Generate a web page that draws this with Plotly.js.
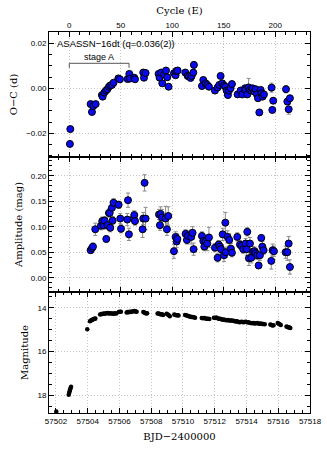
<!DOCTYPE html>
<html>
<head>
<meta charset="utf-8">
<script src="https://cdn.plot.ly/plotly-3.0.1.min.js"></script>
<style>
body { margin: 0; background: #fff; }
#chart { width: 327px; height: 450px; }
</style>
</head>
<body>
<div id="chart"></div>
<script>
// O-C of superhump maxima: cycle E, O-C (d), error
const ocCycle = [0.6, 1, 20.7, 22, 23.3, 25.6, 31.7, 32.4, 34, 35.6, 37, 38.5, 39.8, 41.4, 43, 47.6, 49.2,
  56.6, 58.3, 58.9, 63.1, 63.8, 71.8, 72.5, 74.1, 86.7, 87.7, 89.3, 90.3, 92.2, 93.9, 95.1, 96.4,
  101.6, 103.2, 103.9, 105.2, 112.6, 114.9, 116.2, 117.8, 118.8, 120.4, 121, 128.8, 130.1, 132.4, 134, 135.6,
  141.4, 144, 145.6, 146.9, 148.5, 150.2, 151.5, 152.8, 154, 155, 156.6, 157.9, 163.4, 166.3, 167.9,
  170.6, 171.2, 172.8, 174.1, 175.4, 177, 178, 179.9, 180.9, 182.2, 183.2, 184.5, 185.8, 186.7, 187.7, 189,
  196.4, 197.1, 198, 210.4, 211.7, 213, 214.2]
const ocValue = [-0.0247, -0.0181, -0.0070, -0.0105, -0.0079, -0.0070, -0.0030, -0.0037, -0.0019, -0.0010, -0.0004, 0.0007, 0.0013, 0.0015, 0.0025, 0.0044, 0.0040,
  0.0041, 0.0064, 0.0043, 0.0047, 0.0040, 0.0070, 0.0047, 0.0068, 0.0064, 0.0047, 0.0070, 0.0022, 0.0061, 0.0079, 0.0049, 0.0007,
  0.0067, 0.0058, 0.0077, 0.0079, 0.0070, 0.0055, 0.0052, 0.0046, 0.0055, 0.0070, 0.0104, 0.0010, 0.0037, 0.0022, 0.0015, 0.0007,
  -0.0010, 0.0004, 0.0015, 0.0055, 0.0022, 0.0013, 0.0007, -0.0010, -0.0030, -0.0010, 0.0000, 0.0019, -0.0027, -0.0010, -0.0027,
  0.0000, -0.0007, -0.0027, 0.0004, -0.0007, -0.0010, 0.0000, -0.0015, -0.0004, -0.0027, -0.0044, -0.0107, -0.0007, -0.0022, -0.0037, -0.0027,
  0.0003, -0.0096, -0.0055, -0.0004, -0.0059, -0.0093, -0.0044]
const ocError = [0.0005, 0.0005, 0.0006, 0.0006, 0.0005, 0.0005, 0.0004, 0.0004, 0.0004, 0.0004, 0.0004, 0.0004, 0.0004, 0.0004, 0.0004, 0.0004, 0.0004,
  0.0004, 0.0005, 0.0005, 0.0005, 0.0005, 0.0006, 0.0005, 0.0006, 0.0006, 0.0006, 0.0007, 0.0006, 0.0006, 0.0006, 0.0006, 0.0006,
  0.0006, 0.0006, 0.0006, 0.0006, 0.0006, 0.0006, 0.0006, 0.0006, 0.0007, 0.0008, 0.0014, 0.0007, 0.0007, 0.0007, 0.0008, 0.0007,
  0.0007, 0.0008, 0.0008, 0.0008, 0.0008, 0.0008, 0.0008, 0.0008, 0.0008, 0.0008, 0.0008, 0.0008, 0.0008, 0.0008, 0.0008,
  0.0009, 0.0009, 0.0009, 0.0040, 0.0009, 0.0009, 0.0009, 0.0009, 0.0009, 0.0009, 0.0010, 0.0010, 0.0010, 0.0010, 0.0010, 0.0010,
  0.0020, 0.0012, 0.0012, 0.0016, 0.0014, 0.0022, 0.0012]

// superhump amplitudes: cycle E, amplitude (mag), error
const ampCycle = [20.7, 22, 23, 25.2, 30.7, 32, 33.3, 34.3, 35.9, 37.2, 38.5, 39.2, 39.8, 41.4, 42.1, 43, 47.9, 49.5, 50.2,
  56.3, 57, 57.9, 62.5, 63.1, 63.8, 71.2, 71.8, 73.1, 74.1, 87.1, 88, 88.7, 90, 93.5, 94.8, 96.1,
  101.6, 103.2, 104.2, 104.9, 112.9, 114.2, 115.2, 118.4, 119.7, 120.7, 128.8, 130.1, 131.1, 132.4, 134, 135.6,
  141.4, 144, 145, 146.3, 147.2, 148.9, 150.2, 151.5, 152.1, 153.7, 155.3, 156.9, 157.9,
  163.1, 165.7, 167.3, 168.9, 171.2, 172.2, 172.8, 174.4, 175.4, 176.7, 178.3, 179.9, 180.9, 182.5, 183.8, 185.1, 186.4, 187.4, 188.7,
  196.1, 197.4, 198.7, 210, 211.7, 213, 214.2]
const ampValue = [0.054, 0.058, 0.061, 0.095, 0.102, 0.111, 0.103, 0.112, 0.076, 0.103, 0.127, 0.127, 0.098, 0.137, 0.112, 0.147, 0.143, 0.116, 0.096,
  0.114, 0.152, 0.085, 0.116, 0.123, 0.111, 0.095, 0.116, 0.186, 0.116, 0.124, 0.103, 0.125, 0.118, 0.116, 0.095, 0.121,
  0.052, 0.080, 0.071, 0.076, 0.086, 0.074, 0.082, 0.080, 0.088, 0.056, 0.082, 0.072, 0.061, 0.071, 0.067, 0.079,
  0.059, 0.039, 0.065, 0.061, 0.056, 0.085, 0.044, 0.108, 0.050, 0.080, 0.074, 0.057, 0.049,
  0.080, 0.065, 0.062, 0.056, 0.067, 0.056, 0.090, 0.038, 0.067, 0.039, 0.051, 0.052, 0.048, 0.044, 0.024, 0.044, 0.078, 0.061, 0.054,
  0.033, 0.054, 0.052, 0.050, 0.050, 0.067, 0.021]
const ampError = [0.006, 0.006, 0.007, 0.012, 0.008, 0.008, 0.008, 0.008, 0.006, 0.008, 0.008, 0.008, 0.008, 0.008, 0.008, 0.008, 0.007, 0.010, 0.008,
  0.012, 0.014, 0.012, 0.008, 0.008, 0.008, 0.016, 0.012, 0.016, 0.022, 0.010, 0.010, 0.014, 0.016, 0.024, 0.012, 0.018,
  0.014, 0.010, 0.012, 0.010, 0.008, 0.008, 0.010, 0.014, 0.012, 0.012, 0.008, 0.010, 0.008, 0.010, 0.014, 0.020,
  0.008, 0.008, 0.008, 0.008, 0.010, 0.012, 0.012, 0.020, 0.010, 0.012, 0.012, 0.010, 0.008,
  0.008, 0.008, 0.008, 0.008, 0.010, 0.012, 0.008, 0.014, 0.012, 0.010, 0.010, 0.008, 0.008, 0.008, 0.006, 0.010, 0.006, 0.010, 0.008,
  0.016, 0.012, 0.010, 0.012, 0.016, 0.014, 0.014]

// light curve: BJD-2400000, magnitude
const lcTime = [57502.02,
  57502.80, 57502.83, 57502.86, 57502.89, 57502.92, 57502.95,
  57503.97,
  57504.14, 57504.20, 57504.26, 57504.32, 57504.38, 57504.44, 57504.48,
  57504.78, 57504.85, 57504.92, 57505.00, 57505.08, 57505.16, 57505.24, 57505.32, 57505.40, 57505.48, 57505.56, 57505.64, 57505.72, 57505.80,
  57505.95, 57506.02, 57506.09,
  57506.45, 57506.52, 57506.58, 57506.64, 57506.72, 57506.80, 57506.88, 57506.95, 57507.02, 57507.08,
  57507.50, 57507.56, 57507.62, 57507.68, 57507.74,
  57508.40, 57508.47, 57508.54, 57508.61, 57508.68, 57508.75,
  57508.97, 57509.04, 57509.10, 57509.17,
  57509.45, 57509.52, 57509.59, 57509.66, 57509.72,
  57510.13, 57510.20, 57510.28, 57510.36, 57510.44, 57510.52, 57510.60, 57510.68, 57510.76,
  57511.18, 57511.26, 57511.34, 57511.42, 57511.50, 57511.58, 57511.66,
  57511.95, 57512.02, 57512.10, 57512.18, 57512.26, 57512.34, 57512.42, 57512.50, 57512.58, 57512.66, 57512.74, 57512.82, 57512.90, 57512.98,
  57513.07, 57513.15, 57513.23, 57513.31, 57513.39, 57513.47, 57513.55, 57513.63, 57513.71, 57513.79, 57513.87,
  57513.95, 57514.03, 57514.11, 57514.19, 57514.27, 57514.35, 57514.43, 57514.51, 57514.59, 57514.67, 57514.75, 57514.83, 57514.91, 57514.99, 57515.07, 57515.15,
  57515.50, 57515.57, 57515.64, 57515.70,
  57515.97, 57516.03, 57516.09, 57516.16,
  57516.52, 57516.58, 57516.64, 57516.70, 57516.76]
const lcMag = [18.75,
  17.98, 17.90, 17.82, 17.75, 17.68, 17.62,
  14.99,
  14.62, 14.58, 14.56, 14.54, 14.52, 14.50, 14.49,
  14.31, 14.29, 14.29, 14.27, 14.28, 14.25, 14.24, 14.26, 14.25, 14.27, 14.26, 14.28, 14.25, 14.27,
  14.20, 14.18, 14.19,
  14.22, 14.20, 14.21, 14.19, 14.20, 14.17, 14.16, 14.15, 14.17, 14.18,
  14.20, 14.22, 14.24, 14.26, 14.25,
  14.26, 14.27, 14.29, 14.31, 14.30, 14.33,
  14.28, 14.31, 14.35, 14.39,
  14.31, 14.33, 14.34, 14.35, 14.36,
  14.33, 14.35, 14.37, 14.39, 14.40, 14.42, 14.43, 14.44, 14.46,
  14.47, 14.48, 14.47, 14.49, 14.50, 14.51, 14.52,
  14.46, 14.47, 14.45, 14.48, 14.50, 14.51, 14.53, 14.55, 14.54, 14.56, 14.57, 14.56, 14.58, 14.59,
  14.58, 14.60, 14.61, 14.63, 14.62, 14.64, 14.66, 14.65, 14.64, 14.66, 14.65,
  14.64, 14.66, 14.67, 14.69, 14.70, 14.71, 14.70, 14.72, 14.71, 14.70, 14.72, 14.73, 14.72, 14.74, 14.75, 14.76,
  14.77, 14.79, 14.81, 14.80,
  14.70, 14.73, 14.76, 14.79,
  14.86, 14.88, 14.90, 14.91, 14.93]

const stageA = [0, 58]
const cycleTicks = [0, 50, 100, 150, 200]

const blue = 'rgb(10,10,240)'
const errStyle = { type: 'data', visible: true, color: '#8a8a8a', thickness: 1, width: 2 }

const traces = [
  {
    x: ocCycle, y: ocValue, xaxis: 'x', yaxis: 'y',
    type: 'scatter', mode: 'markers',
    error_y: Object.assign({ array: ocError }, errStyle),
    marker: { color: blue, size: 7, line: { color: '#000', width: 1 } },
  },
  {
    x: ampCycle, y: ampValue, xaxis: 'x2', yaxis: 'y2',
    type: 'scatter', mode: 'markers',
    error_y: Object.assign({ array: ampError }, errStyle),
    marker: { color: blue, size: 7, line: { color: '#000', width: 1 } },
  },
  {
    x: lcTime, y: lcMag, xaxis: 'x3', yaxis: 'y3',
    type: 'scatter', mode: 'markers',
    marker: { color: '#000', size: 4.5 },
  },
]

const tickFont = { family: 'Liberation Sans, Arial, sans-serif', size: 8, color: '#000' }
const titleFont = { family: 'DejaVu Serif, serif', size: 10, color: '#000' }

// shared look of every axis
function axis(extra) {
  return Object.assign({
    showline: true, linecolor: '#000', linewidth: 1, mirror: 'allticks',
    ticks: 'inside', ticklen: 5, tickcolor: '#000', tickwidth: 1,
    showgrid: true, gridcolor: '#c4c4c4', griddash: '1px,2px', gridwidth: 1,
    zeroline: false, tickfont: tickFont, fixedrange: true,
  }, extra)
}

const layout = {
  width: 327, height: 450,
  margin: { l: 49, r: 17, t: 32, b: 37 },
  paper_bgcolor: '#fff', plot_bgcolor: '#fff',
  showlegend: false,
  xaxis: axis({
    anchor: 'y', side: 'top', range: [-19.7, 233.7],
    tickvals: cycleTicks, minor: { dtick: 10, ticklen: 3, tickcolor: '#000', ticks: 'inside' },
    title: { text: 'Cycle (E)', font: titleFont, standoff: 4 },
  }),
  yaxis: axis({
    domain: [0.6719, 1], range: [-0.0305, 0.025],
    tickvals: [-0.02, 0, 0.02], tickformat: '.2f',
    minor: { dtick: 0.005, ticklen: 3, tickcolor: '#000', ticks: 'inside' },
    title: { text: 'O−C (d)', font: titleFont, standoff: 6 },
  }),
  xaxis2: axis({
    anchor: 'y2', matches: 'x', showticklabels: false,
    tickvals: cycleTicks, minor: { dtick: 10, ticklen: 3, tickcolor: '#000', ticks: 'inside' },
  }),
  yaxis2: axis({
    domain: [0.3176, 0.6719], range: [-0.028, 0.2367],
    dtick: 0.05, tickformat: '.2f',
    minor: { dtick: 0.01, ticklen: 3, tickcolor: '#000', ticks: 'inside' },
    title: { text: 'Amplitude (mag)', font: titleFont, standoff: 6 },
  }),
  xaxis3: axis({
    anchor: 'y3', range: [57501.56, 57518], dtick: 2, tickformat: 'd',
    minor: { dtick: 0.5, ticklen: 3, tickcolor: '#000', ticks: 'inside' },
    title: { text: 'BJD−2400000', font: titleFont, standoff: 8 },
  }),
  yaxis3: axis({
    domain: [0, 0.3176], range: [18.82, 13.28], dtick: 2,
    minor: { dtick: 0.5, ticklen: 3, tickcolor: '#000', ticks: 'inside' },
    title: { text: 'Magnitude', font: titleFont, standoff: 6 },
  }),
  annotations: [
    {
      xref: 'x', yref: 'y', x: -13.5, y: 0.0197, xanchor: 'left', yanchor: 'middle',
      text: 'ASASSN−16dt (q=0.036(2))', showarrow: false,
      font: { family: 'Liberation Sans, Arial, sans-serif', size: 9.5, color: '#000' },
    },
    {
      xref: 'x', yref: 'y', x: (stageA[0] + stageA[1]) / 2, y: 0.0139, xanchor: 'center', yanchor: 'middle',
      text: 'stage A', showarrow: false,
      font: { family: 'Liberation Sans, Arial, sans-serif', size: 9, color: '#000' },
    },
  ],
  shapes: [
    {
      type: 'path', xref: 'x', yref: 'y',
      path: 'M ' + stageA[0] + ',0.0091 L ' + stageA[0] + ',0.0111 L ' + stageA[1] + ',0.0111 L ' + stageA[1] + ',0.0091',
      line: { color: '#555', width: 1 },
    },
  ],
}

Plotly.newPlot('chart', traces, layout, { staticPlot: true, displayModeBar: false })
</script>
</body>
</html>
